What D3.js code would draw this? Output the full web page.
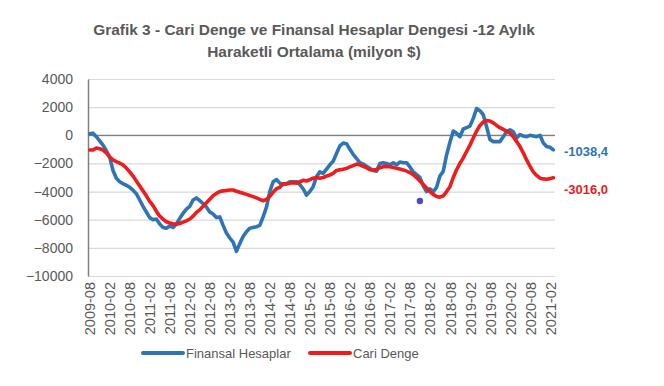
<!DOCTYPE html>
<html>
<head>
<meta charset="utf-8">
<script src="https://cdn.jsdelivr.net/npm/d3@7"></script>
<style>
  body { margin: 0; background: #fff; }
  svg text { font-family: "Liberation Sans", Arial, sans-serif; fill: #595959; }
</style>
</head>
<body>
<div id="chart"></div>
<script>
// categories: monthly, 2009-08 .. 2021-03
const months = d3.timeMonth.range(new Date(2009, 7, 1), new Date(2021, 3, 1)).map(d3.timeFormat("%Y-%m"))

const xTickLabels = [
  "2009-08", "2010-02", "2010-08", "2011-02", "2011-08", "2012-02", "2012-08", "2013-02",
  "2013-08", "2014-02", "2014-08", "2015-02", "2015-08", "2016-02", "2016-08", "2017-02",
  "2017-08", "2018-02", "2018-08", "2019-02", "2019-08", "2020-02", "2020-08", "2021-02"
]
const yTicks = [4000, 2000, 0, -2000, -4000, -6000, -8000, -10000]

// Finansal Hesaplar (12 aylik hareketli ortalama, milyon $)
const finansalHesaplar = [
  100, 150, -100, -400, -700, -1100, -1550, -2500, -3050, -3300,
  -3450, -3550, -3700, -3900, -4150, -4600, -5050, -5450, -5850, -6000,
  -5950, -6300, -6550, -6600, -6450, -6550, -6300, -5900, -5550, -5250,
  -5050, -4600, -4450, -4650, -4850, -5100, -5450, -5600, -5850, -5800,
  -6400, -6950, -7300, -7600, -8250, -7700, -7200, -6850, -6600, -6550,
  -6500, -6400, -5800, -5100, -4000, -3300, -3150, -3400, -3500, -3450,
  -3300, -3300, -3300, -3500, -3800, -4250, -4000, -3650, -2950, -2600,
  -2700, -2400, -2100, -1850, -1300, -750, -550, -600, -1000, -1350,
  -1650, -1950, -2050, -2200, -2350, -2500, -2550, -2000, -1950, -2000,
  -2100, -1950, -2100, -1900, -1950, -1950, -2250, -2600, -2800, -3000,
  -3600, -4000, -3800, -4000, -3700, -2900, -2550, -1400, -500, 300,
  150, -100, 450, 550, 650, 1200, 1900, 1750, 1450, 600,
  -300, -450, -450, -450, -100, 250, 380, 250, -200, 50,
  -50, -100, 0, -50, -100, 0, -550, -800, -850, -1038.4
]

// Cari Denge (12 aylik hareketli ortalama, milyon $)
const cariDenge = [
  -1050, -1050, -900, -950, -1050, -1250, -1550, -1750, -1870, -1980,
  -2100, -2330, -2600, -2900, -3250, -3600, -3950, -4300, -4700, -5000,
  -5400, -5750, -5950, -6150, -6230, -6290, -6320, -6270, -6170, -6080,
  -5950, -5750, -5480, -5300, -5050, -4800, -4550, -4300, -4130, -4000,
  -3950, -3920, -3890, -3890, -3980, -4050, -4120, -4200, -4280, -4360,
  -4450, -4550, -4650, -4550, -4350, -4050, -3800, -3700, -3450, -3450,
  -3400, -3370, -3400, -3300, -3200, -3250, -3150, -3050, -3000, -3050,
  -3000, -2900, -2820, -2700, -2500, -2450, -2420, -2350, -2250, -2150,
  -2050, -2100, -2200, -2300, -2450, -2470, -2430, -2300, -2230, -2220,
  -2230, -2280, -2350, -2400, -2460, -2550, -2650, -2800, -3000, -3250,
  -3500, -3750, -4000, -4200, -4350, -4400, -4300, -4000, -3650, -3000,
  -2450, -2000, -1600, -1150, -700, -200, 300, 700, 950, 1050,
  1020, 880, 700, 540, 420, 300, 150, -100, -450, -800,
  -1250, -1750, -2200, -2600, -2850, -3050, -3100, -3120, -3080, -3016.0
]

// the lone marker near 2017-11
const stray = [{ month: "2017-11", value: -4670 }]

const seriesNames = ["Finansal Hesaplar", "Cari Denge"]
const seriesColors = ["#2e75b6", "#ee1c1c"]
const endLabels = ["-1038,4", "-3016,0"]

const width = 664
const height = 386
const plot = { left: 88, right: 555, top: 79, bottom: 276 }

const svg = d3.select("#chart")
  .append("svg")
  .attr("width", width)
  .attr("height", height)

const x = d3.scalePoint()
  .domain(months)
  .range([plot.left, plot.right])
  .padding(0.5)

const y = d3.scaleLinear()
  .domain([-10000, 4000])
  .range([plot.bottom, plot.top])

// title
const title = svg.append("g")
  .attr("font-weight", "bold")
title.append("text")
  .attr("class", "t1")
  .attr("x", 314)
  .attr("y", 35)
  .attr("text-anchor", "middle")
  .text("Grafik 3 - Cari Denge ve Finansal Hesaplar Dengesi -12 Aylık")
title.append("text")
  .attr("class", "t2")
  .attr("x", 314)
  .attr("y", 57)
  .attr("text-anchor", "middle")
  .text("Haraketli Ortalama (milyon $)")
// fit the title to the width it takes in the picture
const t1 = title.select(".t1").attr("font-size", 15)
const titleSize = 15 * 442 / t1.node().getComputedTextLength()
title.selectAll("text").attr("font-size", titleSize)

// gridlines
svg.append("g")
  .attr("class", "grid")
  .attr("transform", `translate(${plot.left},0)`)
  .call(d3.axisLeft(y).tickValues(yTicks).tickSize(-(plot.right - plot.left)).tickFormat(""))
  .call(g => g.select(".domain").remove())
  .call(g => g.selectAll("line").attr("stroke", "#d9d9d9").attr("stroke-width", 1.2))

// y axis
svg.append("g")
  .attr("transform", `translate(${plot.left},0)`)
  .call(d3.axisLeft(y).tickValues(yTicks).tickSize(0).tickPadding(15).tickFormat(d3.format("d")))
  .call(g => g.select(".domain").attr("stroke", "#808080").attr("stroke-width", 1.5))
  .call(g => g.selectAll("text").attr("font-size", 14).attr("font-family", null))

// category axis line at zero
svg.append("line")
  .attr("x1", plot.left)
  .attr("x2", plot.right)
  .attr("y1", y(0))
  .attr("y2", y(0))
  .attr("stroke", "#808080")
  .attr("stroke-width", 1.2)

// x labels at the bottom
svg.append("g")
  .attr("transform", `translate(0,${plot.bottom + 6})`)
  .call(d3.axisBottom(x).tickValues(xTickLabels).tickSize(0))
  .call(g => g.select(".domain").remove())
  .call(g => g.selectAll("text")
    .attr("font-size", 14.5)
    .attr("font-family", null)
    .attr("transform", "rotate(-90)")
    .attr("text-anchor", "end")
    .attr("x", 0)
    .attr("y", 0)
    .attr("dx", 0)
    .attr("dy", "0.35em"))

// lines
const line = d3.line()
  .x((d, i) => x(months[i]))
  .y(d => y(d))

const allSeries = [finansalHesaplar, cariDenge]
svg.append("g")
  .selectAll("path.series")
  .data(allSeries)
  .enter()
    .append("path")
      .attr("class", "series")
      .attr("d", d => line(d))
      .attr("fill", "none")
      .attr("stroke", (d, i) => seriesColors[i])
      .attr("stroke-width", 3.6)
      .attr("stroke-linejoin", "round")
      .attr("stroke-linecap", "round")

svg.selectAll("circle.stray")
  .data(stray)
  .enter()
    .append("circle")
      .attr("class", "stray")
      .attr("cx", d => x(d.month))
      .attr("cy", d => y(d.value))
      .attr("r", 3.2)
      .attr("fill", "#4b4bc4")

// end labels
const lastIndex = months.length - 1
const labelOffsets = [2, 12]
svg.selectAll("text.end")
  .data(allSeries)
  .enter()
    .append("text")
      .attr("class", "end")
      .attr("x", plot.right + 9)
      .attr("y", (d, i) => y(d[lastIndex]) + labelOffsets[i])
      .attr("dy", "0.35em")
      .attr("font-size", 13)
      .attr("font-weight", "bold")
      .style("fill", (d, i) => seriesColors[i])
      .text((d, i) => endLabels[i])

// legend
const legendX = [143, 310]
const legend = svg.append("g")
  .selectAll("g")
  .data(seriesNames)
  .enter()
    .append("g")
      .attr("transform", (d, i) => `translate(${legendX[i]},353)`)
legend.append("line")
  .attr("x1", 0)
  .attr("x2", 40)
  .attr("stroke", (d, i) => seriesColors[i])
  .attr("stroke-width", 4)
  .attr("stroke-linecap", "round")
legend.append("text")
  .attr("x", 43)
  .attr("dy", "0.35em")
  .attr("font-size", 13)
  .text(d => d)
</script>
</body>
</html>
